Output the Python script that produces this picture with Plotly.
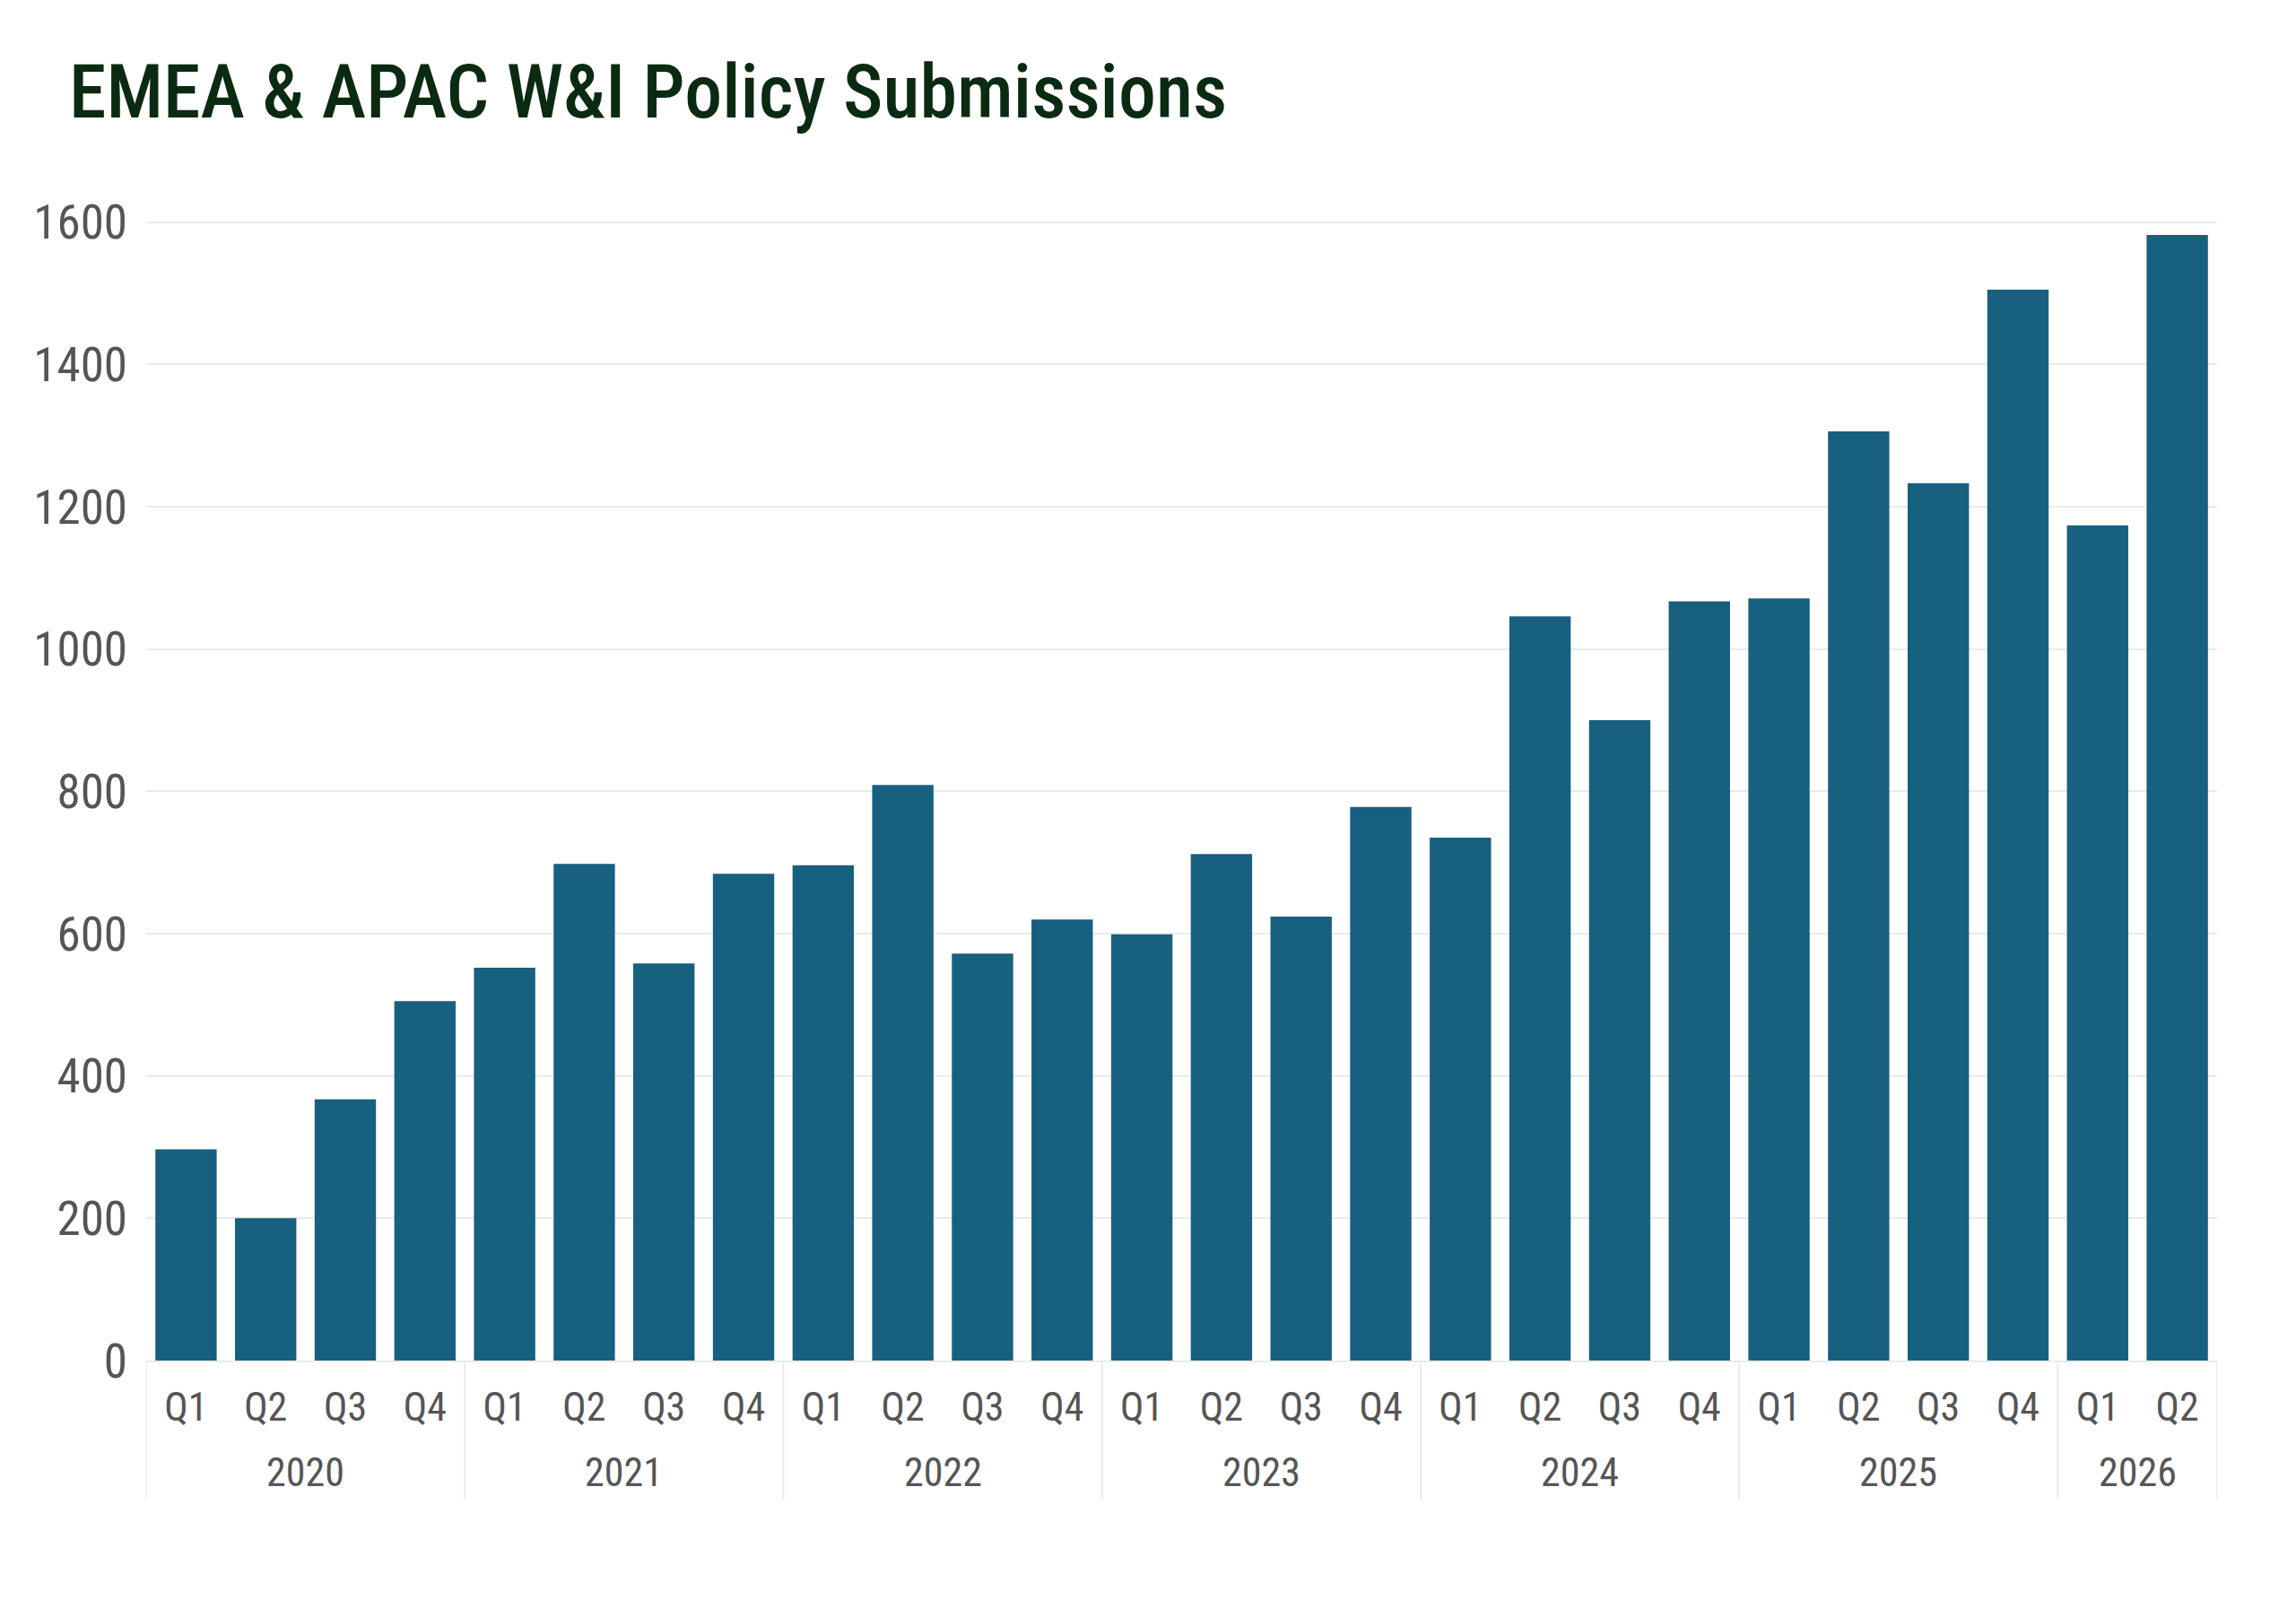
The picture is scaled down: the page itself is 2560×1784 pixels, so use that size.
import plotly.graph_objects as go

years = ["2020"] * 4 + ["2021"] * 4 + ["2022"] * 4 + ["2023"] * 4 + ["2024"] * 4 + ["2025"] * 4 + ["2026"] * 2
quarters = ["Q1", "Q2", "Q3", "Q4"] * 6 + ["Q1", "Q2"]
submissions = [297, 200, 367, 505,
               552, 698, 558, 684,
               696, 809, 572, 620,
               599, 712, 624, 778,
               735, 1046, 900, 1067,
               1071, 1306, 1233, 1505,
               1174, 1582]

font_family = "Roboto Condensed, Liberation Sans Narrow, DejaVu Sans Condensed, sans-serif"
bar_color = "#17607f"
grid_color = "#e8ece8"
label_color = "#555555"

# unique category per bar, quarter shown as tick text
periods = [f"{y} {q}" for y, q in zip(years, quarters)]

fig = go.Figure(go.Bar(
    x=periods,
    y=submissions,
    marker=dict(color=bar_color, line=dict(width=0)),
))

# page body has an 8px margin, so the margins below are offset by it
m_l, m_r, m_t, m_b = 155, 96, 200, 275
plot_h = 1784 - m_t - m_b

# year group labels + divider lines under the axis
year_names = list(dict.fromkeys(years))
boundaries = [-0.5]
for yr in year_names:
    idx = [i for i, y in enumerate(years) if y == yr]
    fig.add_annotation(
        x=sum(idx) / len(idx), xref="x",
        y=-125 / plot_h, yref="paper", yanchor="middle",
        text=yr, showarrow=False,
        font=dict(family=font_family, size=44, color=label_color),
    )
    boundaries.append(idx[-1] + 0.5)

for b in boundaries:
    fig.add_shape(
        type="line", xref="x", yref="paper",
        x0=b, x1=b, y0=0, y1=-155 / plot_h,
        line=dict(color=grid_color, width=2),
    )

fig.update_layout(
    width=2560,
    height=1784,
    paper_bgcolor="white",
    plot_bgcolor="white",
    margin=dict(l=m_l, r=m_r, t=m_t, b=m_b),
    bargap=0.23,
    showlegend=False,
    title=dict(
        text="EMEA & APAC W&I Policy Submissions",
        x=69 / 2560, xanchor="left",
        y=1 - 123 / 1784, yanchor="bottom",
        font=dict(family=font_family, size=84, color="#0b2a12", weight=500),
    ),
    font=dict(family=font_family, size=46, color=label_color),
)

fig.update_xaxes(
    type="category",
    range=[-0.5, len(periods) - 0.5],
    tickvals=periods, ticktext=quarters,
    showline=True, linecolor=grid_color, linewidth=2,
    ticks="", ticklabelstandoff=12,
    tickfont=dict(family=font_family, size=44, color=label_color),
    showgrid=False,
)

fig.update_yaxes(
    range=[0, 1650],
    tickvals=[0, 200, 400, 600, 800, 1000, 1200, 1400, 1600],
    showgrid=True, gridcolor=grid_color, gridwidth=2,
    zeroline=False,
    ticks="", ticklabelstandoff=20,
    tickfont=dict(family=font_family, size=53, color=label_color),
)

fig.write_html("out.html")
